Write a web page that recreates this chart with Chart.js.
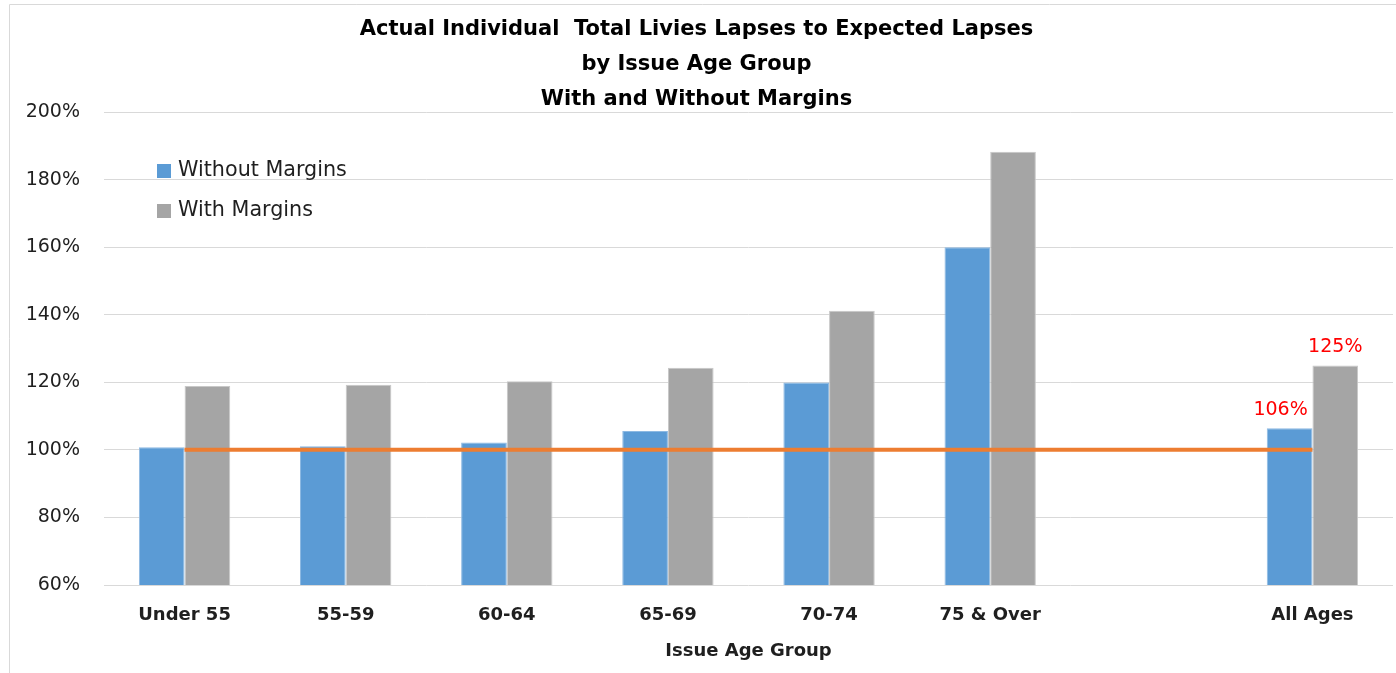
<!DOCTYPE html>
<html>
<head>
<meta charset="utf-8">
<style>
  html, body { margin: 0; padding: 0; background: #ffffff; }
  #wrap { position: relative; width: 1396px; height: 673px; }
</style>
<script src="https://cdn.jsdelivr.net/npm/chart.js@4/dist/chart.umd.min.js"></script>
</head>
<body>
<div id="wrap"><canvas id="chart" width="1396" height="673"></canvas></div>
<script>
// Issue age groups (the blank slot separates the total column)
const categories = ['Under 55', '55-59', '60-64', '65-69', '70-74', '75 & Over', '', 'All Ages'];

// Actual-to-expected lapse ratios, in percent
const withoutMargins = [100.8, 101.1, 102.2, 105.6, 119.9, 160.0, null, 106.4];
const withMargins    = [118.9, 119.3, 120.3, 124.3, 141.2, 188.2, null, 125.0];

// 100% reference line
const expectedLevel = [100, 100, 100, 100, 100, 100, 100, 100];

// Value labels shown above the total column
const labelledCategory = 'All Ages';

const titleLines = [
  'Actual Individual  Total Livies Lapses to Expected Lapses',
  'by Issue Age Group',
  'With and Without Margins'
];

const FONT = "'DejaVu Sans', sans-serif";
const TEXT = '#1f1f1f';

// Light frame around the whole chart
const framePlugin = {
  id: 'frame',
  beforeDraw(chart) {
    const ctx = chart.ctx;
    ctx.save();
    ctx.strokeStyle = '#d9d9d9';
    ctx.lineWidth = 1;
    ctx.beginPath();
    ctx.moveTo(9.5, chart.height);
    ctx.lineTo(9.5, 4.5);
    ctx.lineTo(chart.width, 4.5);
    ctx.stroke();
    ctx.restore();
  }
};

// Legend drawn inside the plot, upper left
const innerLegend = {
  id: 'innerLegend',
  afterDraw(chart) {
    const ctx = chart.ctx;
    const area = chart.chartArea;
    const bars = chart.data.datasets.filter(d => d.type === 'bar');
    ctx.save();
    ctx.font = '20.7px ' + FONT;
    ctx.textBaseline = 'middle';
    ctx.textAlign = 'left';
    bars.forEach((ds, i) => {
      const cy = area.top + 59 + i * 40;
      const x = area.left + 53;
      ctx.fillStyle = ds.backgroundColor;
      ctx.fillRect(x, cy - 7, 14, 14);
      ctx.fillStyle = TEXT;
      ctx.fillText(ds.label, x + 21, cy);
    });
    ctx.restore();
  }
};

// Red value labels above the bars of the total column
const valueLabels = {
  id: 'valueLabels',
  afterDatasetsDraw(chart) {
    const idx = chart.data.labels.indexOf(labelledCategory);
    const ctx = chart.ctx;
    ctx.save();
    ctx.font = '19px ' + FONT;
    ctx.fillStyle = '#ff0000';
    ctx.textAlign = 'center';
    ctx.textBaseline = 'alphabetic';
    let barNo = 0;
    chart.data.datasets.forEach((ds, di) => {
      if (ds.type !== 'bar') return;
      const el = chart.getDatasetMeta(di).data[idx];
      const v = ds.data[idx];
      const dx = barNo === 0 ? -9 : 0;
      barNo++;
      if (!el || v == null) return;
      ctx.fillText(Math.round(v) + '%', el.x + dx, el.y - 13);
    });
    ctx.restore();
  }
};

new Chart(document.getElementById('chart'), {
  data: {
    labels: categories,
    datasets: [
      {
        type: 'line',
        label: 'Expected',
        data: expectedLevel,
        borderColor: '#ED7D31',
        borderWidth: 4,
        pointRadius: 0,
        fill: false,
        order: 0
      },
      {
        type: 'bar',
        label: 'Without Margins',
        data: withoutMargins,
        backgroundColor: '#5B9BD5',
        borderColor: '#8DB9E2',
        borderWidth: 1,
        order: 1
      },
      {
        type: 'bar',
        label: 'With Margins',
        data: withMargins,
        backgroundColor: '#A5A5A5',
        borderColor: '#C8C8C8',
        borderWidth: 1,
        order: 1
      }
    ]
  },
  options: {
    responsive: false,
    animation: false,
    devicePixelRatio: 1,
    categoryPercentage: 0.567,
    barPercentage: 1,
    layout: { padding: { top: 8, right: 3, bottom: 8, left: 0 } },
    plugins: {
      legend: { display: false },
      tooltip: { enabled: false },
      title: {
        display: true,
        text: titleLines,
        color: '#000000',
        font: { family: FONT, size: 21, weight: 'bold', lineHeight: '35px' },
        padding: { top: 4, bottom: -5 }
      }
    },
    scales: {
      x: {
        grid: { display: false, drawTicks: false },
        border: { display: false },
        ticks: {
          color: TEXT,
          font: { family: FONT, size: 18, weight: 'bold' },
          padding: 20,
          maxRotation: 0,
          autoSkip: false
        },
        title: {
          display: true,
          text: 'Issue Age Group',
          color: TEXT,
          font: { family: FONT, size: 18, weight: 'bold' },
          padding: { top: 0, bottom: 3 }
        },
        afterFit(scale) { scale.height = 80; }
      },
      y: {
        min: 60,
        max: 200,
        grid: { color: '#d9d9d9', lineWidth: 1, drawTicks: false },
        border: { display: false },
        ticks: {
          stepSize: 20,
          color: TEXT,
          font: { family: FONT, size: 19 },
          padding: 24,
          callback: v => v + '%'
        },
        afterFit(scale) { scale.width = 104; }
      }
    }
  },
  plugins: [framePlugin, innerLegend, valueLabels]
});
</script>
</body>
</html>
